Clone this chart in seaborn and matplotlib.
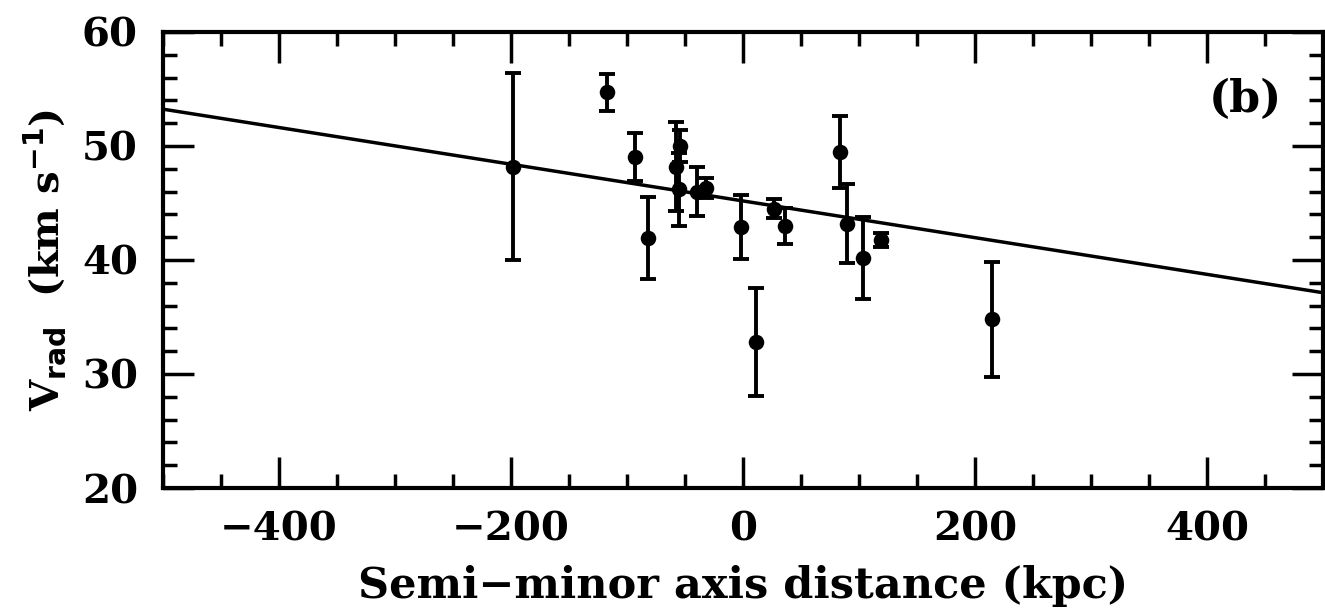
import numpy as np
import pandas as pd
import matplotlib
matplotlib.use("Agg")
import matplotlib.pyplot as plt
import seaborn as sns
from matplotlib.ticker import MultipleLocator

# ---- data ----
distance_kpc = [-198, -117, -93, -82, -57.5, -54, -55, -40, -32, -1.4, 11.5,
                26.7, 36, 83.3, 90, 103.7, 119, 214.6]
v_rad = [48.2, 54.7, 49.0, 41.9, 48.2, 50.0, 46.2, 46.0, 46.3, 42.9, 32.8,
         44.5, 43.0, 49.5, 43.2, 40.2, 41.75, 34.8]
v_err = [8.2, 1.6, 2.1, 3.6, 3.9, 1.4, 3.2, 2.15, 0.9, 2.8, 4.75,
         0.85, 1.6, 3.15, 3.5, 3.6, 0.65, 5.05]
fit_intercept = 45.18
fit_slope = -0.0161
fit_x = [-500, 500]

df = pd.DataFrame({"x": distance_kpc, "y": v_rad, "err": v_err})
fit_df = pd.DataFrame({"x": fit_x,
                       "y": [fit_intercept + fit_slope * v for v in fit_x]})

sns.set_theme(style="ticks", rc={"text.color": "black",
                                 "axes.labelcolor": "black",
                                 "xtick.color": "black",
                                 "ytick.color": "black",
                                 "axes.edgecolor": "black"})
plt.rcParams["font.family"] = ["DejaVu Serif"]
plt.rcParams["font.weight"] = "bold"
plt.rcParams["mathtext.default"] = "bf"

fig = plt.figure(figsize=(13.25, 6.15), dpi=100)
ax = fig.add_axes([0.123, 0.2065, 0.8755, 0.7415])

ax.errorbar(df["x"], df["y"], yerr=df["err"], fmt="none", ecolor="black",
            elinewidth=2.8, capsize=6, capthick=2.8, zorder=2)
sns.scatterplot(data=df, x="x", y="y", ax=ax, color="black", s=125,
                edgecolor="black", linewidth=0, zorder=3, legend=False)
sns.lineplot(data=fit_df, x="x", y="y", ax=ax, color="black", linewidth=2.5,
             zorder=1)

ax.set_xlim(-500, 500)
ax.set_ylim(20, 60)
ax.xaxis.set_major_locator(MultipleLocator(200))
ax.xaxis.set_minor_locator(MultipleLocator(50))
ax.yaxis.set_major_locator(MultipleLocator(10))
ax.yaxis.set_minor_locator(MultipleLocator(2))
ax.tick_params(which="both", direction="in", top=True, right=True,
               width=2.5, colors="black", labelsize=29)
ax.tick_params(axis="x", pad=16)
ax.tick_params(axis="y", pad=18)
ax.tick_params(which="major", length=22)
ax.tick_params(which="minor", length=10)
for lab in ax.get_xticklabels() + ax.get_yticklabels():
    lab.set_fontweight("bold")
for sp in ax.spines.values():
    sp.set_linewidth(3.0)
    sp.set_color("black")
    sp.set_visible(True)

ax.set_xlabel("Semi\u2212minor axis distance (kpc)", fontsize=31,
              fontweight="bold", labelpad=12)
ax.set_ylabel(r"V$_{\mathbf{rad}}$  (km s$^{-1}$)", fontsize=29,
              fontweight="bold", labelpad=10)
ax.text(0.933, 0.851, "(b)", transform=ax.transAxes, fontsize=32,
        fontweight="bold", ha="center", va="center")

fig.savefig("out.png", dpi=100)
